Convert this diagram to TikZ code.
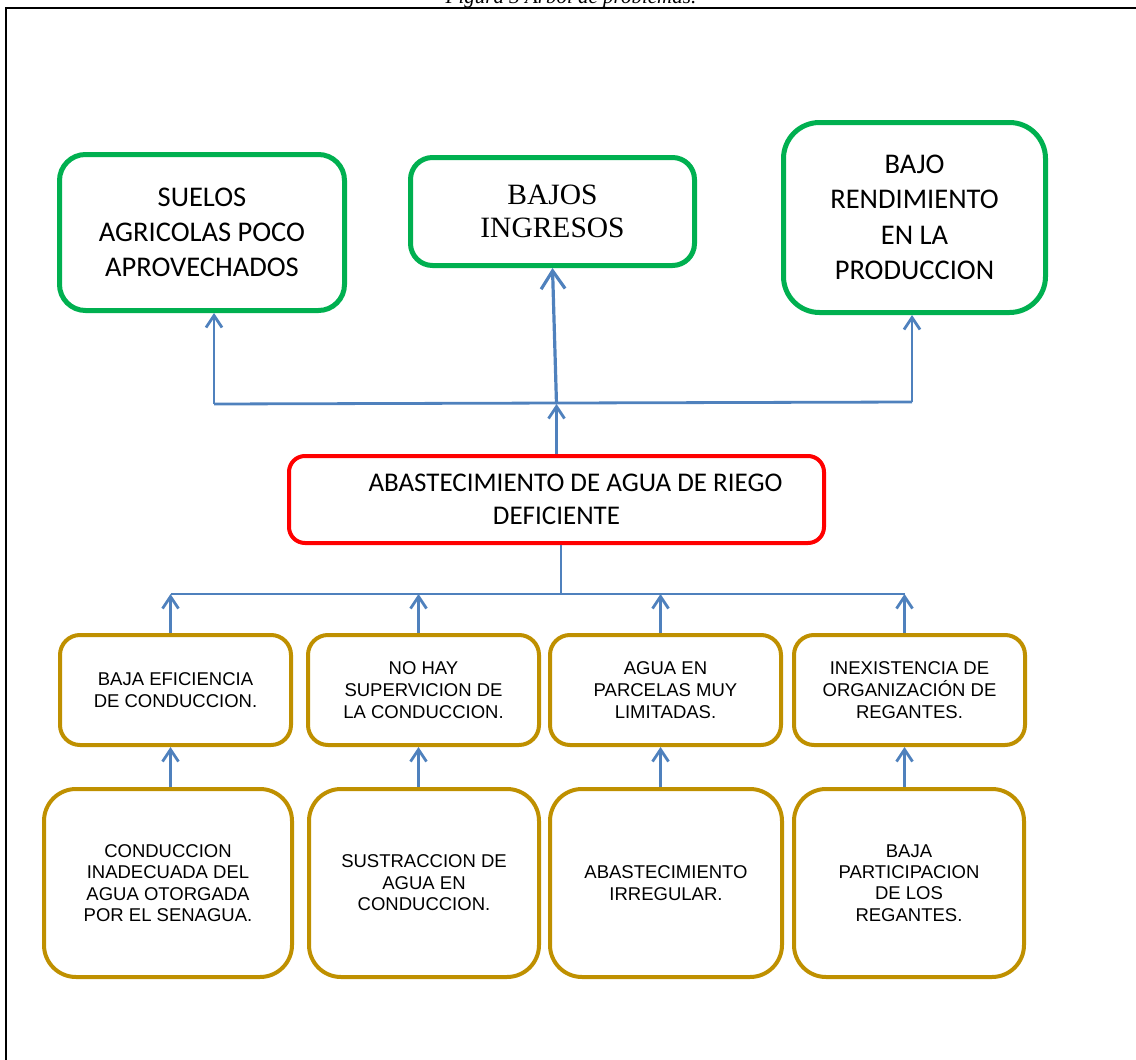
\documentclass[tikz,border=0pt]{standalone}
\usepackage{fontspec}
\setmainfont{Carlito}
\newfontfamily\timesf{Liberation Serif}
\newfontfamily\arialf{Liberation Sans}
\usetikzlibrary{arrows.meta,calc,positioning}
\definecolor{arbolblue}{HTML}{4F81BD}
\definecolor{efectgreen}{HTML}{00B050}
\definecolor{probred}{HTML}{FF0000}
\definecolor{causagold}{HTML}{BF9000}

\begin{document}
\begin{tikzpicture}[x=1pt, y=-1pt,
  efecto/.style={draw=efectgreen, line width=5pt, rounded corners=26pt, align=center, inner sep=0pt},
  problema/.style={draw=probred, line width=4pt, rounded corners=16pt, align=center, inner sep=0pt,
    minimum width=535pt, minimum height=87pt, font=\fontsize{27}{33.5}\selectfont},
  causa/.style={draw=causagold, line width=4pt, rounded corners=20pt, align=center, inner sep=0pt,
    minimum width=231pt, minimum height=110pt, font=\arialf\fontsize{18.5}{22}\selectfont},
  raiz/.style={draw=causagold, line width=4pt, rounded corners=32pt, align=center, inner sep=0pt,
    minimum height=188pt, font=\arialf\fontsize{18.5}{21.4}\selectfont},
  flecha/.style={draw=arbolblue, line width=2.8pt, -{Straight Barb[length=12pt,width=16pt]}},
  flechagrande/.style={draw=arbolblue, line width=3.2pt, -{Straight Barb[length=18pt,width=24pt]}},
  linea/.style={draw=arbolblue, line width=2.8pt}]

\useasboundingbox (0,0) rectangle (1136,1060);
\draw[line width=1.6pt] (6,8) rectangle (1150,1075);
\node[anchor=base, font=\timesf\itshape\fontsize{21}{25}\selectfont] (titulo) at (571,3) {Figura 3 Árbol de problemas.};

% Efectos
\node[efecto, minimum width=285pt, minimum height=156pt, font=\fontsize{28.5}{35}\selectfont]
  (suelos) at (202,232.5) {SUELOS\\AGRICOLAS POCO\\APROVECHADOS};
\node[efecto, minimum width=284pt, minimum height=108pt, rounded corners=22pt, font=\timesf\fontsize{29.5}{33}\selectfont]
  (ingresos) at (552.5,211.5) {BAJOS\\INGRESOS};
\node[efecto, minimum width=262pt, minimum height=190pt, rounded corners=36pt, font=\fontsize{28.5}{35.5}\selectfont]
  (rendim) at (914.5,217.5) {BAJO\\RENDIMIENTO\\EN LA\\PRODUCCION};

% Problema central
\node[problema] (abast) at (556.5,499.5) {\hspace*{38pt}ABASTECIMIENTO DE AGUA DE RIEGO\\DEFICIENTE};

% Causas directas
\node[causa] (ca) at (175.5,690) {BAJA EFICIENCIA\\DE CONDUCCION.};
\node[causa] (cb) at (423.5,690) {NO HAY\\SUPERVICION DE\\LA CONDUCCION.};
\node[causa] (cc) at (665.5,690) {AGUA EN\\PARCELAS MUY\\LIMITADAS.};
\node[causa] (cd) at (909.5,690) {INEXISTENCIA DE\\ORGANIZACIÓN DE\\REGANTES.};

% Causas raiz
\node[raiz, minimum width=248pt] (ra) at (168,883) {CONDUCCION\\INADECUADA DEL\\AGUA OTORGADA\\POR EL SENAGUA.};
\node[raiz, minimum width=230pt] (rb) at (424,883) {SUSTRACCION DE\\AGUA EN\\CONDUCCION.};
\node[raiz, minimum width=232pt] (rc) at (666,883) {ABASTECIMIENTO\\IRREGULAR.};
\node[raiz, minimum width=230pt] (rd) at (909,883) {BAJA\\PARTICIPACION\\DE LOS\\REGANTES.};

% Conectores superiores
\coordinate (bizq) at (214,404);
\coordinate (bder) at (912,402);
\draw[linea] (bizq) -- (bder);
\draw[flecha] (bizq) -- (bizq |- suelos.south);
\draw[flecha] (bder) -- (bder |- rendim.south);
\draw[flecha] (abast.north) -- (abast.north |- bizq);
\draw[flechagrande] (abast.north |- bizq) -- (ingresos.south);

% Conectores inferiores
\coordinate (mizq) at (170.5,594);
\coordinate (mder) at (904.5,594);
\draw[linea] (mizq) -- (mder);
\draw[linea] ([xshift=4.5pt]abast.south) -- ([xshift=4.5pt]abast.south |- mizq);
\foreach \c/\r in {ca/ra, cb/rb, cc/rc, cd/rd}{
  \draw[flecha] ([xshift=-5pt]\c.north) -- ([xshift=-5pt]\c.north |- mizq);
  \draw[flecha] ([xshift=-5pt]\c.south |- \r.north) -- ([xshift=-5pt]\c.south);
}

\end{tikzpicture}
\end{document}
